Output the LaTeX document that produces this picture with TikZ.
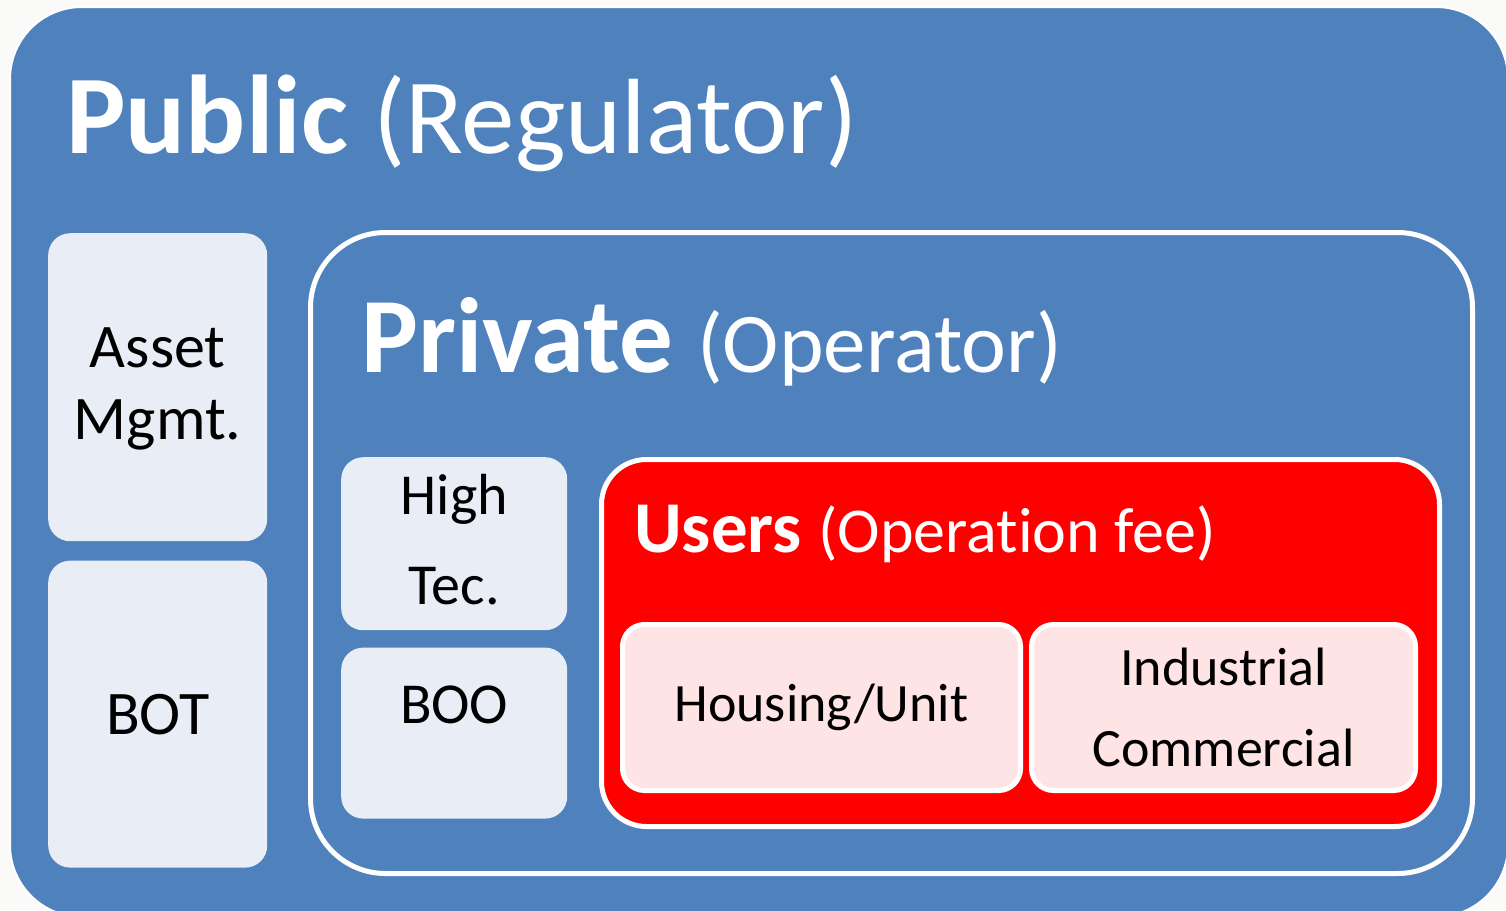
\documentclass[tikz,border=0pt]{standalone}
\usepackage{fontspec}
\setmainfont{Carlito}[Ligatures=NoCommon]
\usetikzlibrary{positioning}
\definecolor{publicblue}{RGB}{79,129,189}
\definecolor{cellfill}{RGB}{233,238,246}
\definecolor{userred}{RGB}{255,0,0}
\definecolor{unitfill}{RGB}{255,228,230}
\definecolor{paper}{RGB}{250,250,248}

\begin{document}
\begin{tikzpicture}[
    x=1pt, y=-1pt,
    every node/.style={align=center, inner sep=0pt},
    publicbox/.style={fill=publicblue, draw=white, line width=2pt, rounded corners=72pt, anchor=north west},
    privatebox/.style={fill=publicblue, draw=white, line width=5pt, rounded corners=75pt, anchor=north west},
    userbox/.style={fill=userred, draw=white, line width=5pt, rounded corners=45pt, anchor=north west},
    cell/.style={fill=cellfill, rounded corners=22pt, anchor=north west},
    unit/.style={fill=unitfill, draw=white, line width=5pt, rounded corners=22pt, anchor=north west,
        minimum height=166pt, font=\fontsize{54}{81}\selectfont},
    title/.style={text=white, anchor=base west}
]
    % page
    \useasboundingbox[fill=paper] (0,0) rectangle (1506,910);

    % Public
    \node[publicbox, minimum width=1498pt, minimum height=910pt] (public) at (9,6) {};
    \node[title] (pubtitle) at (66,153)
        {\fontsize{112}{112}\selectfont\bfseries Public \mdseries\fontsize{107}{107}\selectfont(Regulator)};

    \node[cell, minimum width=219pt, minimum height=308pt, font=\fontsize{62}{72}\selectfont,
        text depth=8pt] (asset) at (48,233) {Asset\\Mgmt.};
    \node[cell, below=19pt of asset, minimum width=219pt, minimum height=307pt,
        font=\fontsize{62}{72}\selectfont] (bot) {BOT};

    % Private
    \node[privatebox, minimum width=1162pt, minimum height=641pt] (private) at (308,230) {};
    \node[title] (privtitle) at (361,372)
        {\fontsize{107}{107}\selectfont\bfseries Private \mdseries\fontsize{85}{85}\selectfont(Operator)};

    \node[cell, minimum width=226pt, minimum height=173pt, font=\fontsize{58}{90}\selectfont,
        text depth=8pt] (hightec) at (341,457) {High\\Tec.};
    \node[cell, below=17pt of hightec, minimum width=226pt, minimum height=171pt,
        font=\fontsize{58}{90}\selectfont, text depth=57pt] (boo) {BOO};

    % Users
    \node[userbox, minimum width=838pt, minimum height=367pt] (users) at (599,457) {};
    \node[title] (usertitle) at (634,552)
        {\fontsize{73}{73}\selectfont\bfseries Users \mdseries\fontsize{64}{64}\selectfont(Operation fee)};

    \node[unit, minimum width=398pt] (housing) at (620,622) {Housing/Unit};
    \node[unit, right=6pt of housing, minimum width=384pt] (industrial) {Industrial\\Commercial};
\end{tikzpicture}
\end{document}
